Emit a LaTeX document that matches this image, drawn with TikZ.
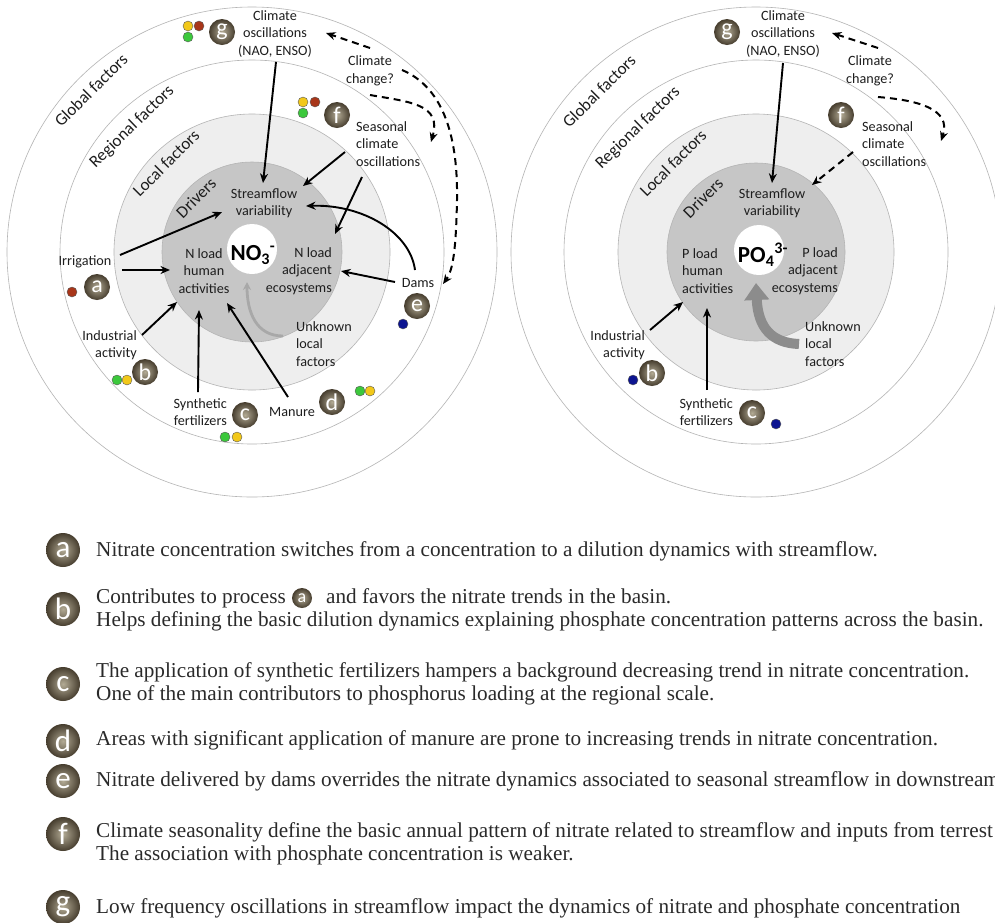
\documentclass[tikz,border=0pt]{standalone}
\usepackage{fontspec}
\setmainfont{Liberation Serif}
\newfontfamily\lab{Carlito}
\usetikzlibrary{arrows.meta}
\definecolor{ringline}{HTML}{B4B4B4}
\definecolor{localfill}{HTML}{EEEEEE}
\definecolor{drvfill}{HTML}{C6C6C6}
\definecolor{bin}{HTML}{B2AA94}
\definecolor{bout}{HTML}{463D2E}
\definecolor{dyel}{HTML}{F2C81A}
\definecolor{dgrn}{HTML}{3CC83C}
\definecolor{dbrn}{HTML}{A8361A}
\definecolor{dblu}{HTML}{0C1490}
\definecolor{txt}{HTML}{1E1E1E}
\definecolor{lgtxt}{HTML}{2A2A2A}
\definecolor{unkl}{HTML}{A8A8A8}
\definecolor{unkr}{HTML}{8C8C8C}
\begin{document}
\begin{tikzpicture}[x=1pt,y=-1pt,
  ring/.style={draw=ringline,line width=0.6pt},
  lbl/.style={font=\lab\fontsize{14.2}{17.5}\selectfont,text=txt,align=center,inner sep=0pt},
  rlbl/.style={lbl,font=\lab\fontsize{17}{17}\selectfont},
  chem/.style={font=\lab\bfseries\fontsize{23}{23}\selectfont,text=black,inner sep=0pt},
  badge/.style={circle,minimum size=26pt,inner sep=0pt,shading=radial,inner color=bin,outer color=bout,
    text=white,font=\lab\fontsize{24}{24}\selectfont},
  bigbadge/.style={badge,minimum size=34pt,font=\lab\fontsize{31}{31}\selectfont},
  smallbadge/.style={badge,minimum size=20pt,font=\lab\fontsize{18}{18}\selectfont},
  dot/.style={circle,minimum size=10pt,inner sep=0pt,draw=black!65,line width=0.4pt},
  arr/.style={-{Stealth[length=9.5pt,width=8pt]},line width=1.9pt,black},
  darr/.style={arr,line width=2pt,dash pattern=on 7pt off 5pt},
  leg/.style={anchor=base west,inner sep=0pt,text=lgtxt,font=\fontsize{21.2}{23}\selectfont}
]
\path[use as bounding box,fill=white] (0,0) rectangle (995,922);

% ---------------- left diagram ----------------
\draw[ring,fill=white] (252,252) circle[radius=245];
\draw[ring,fill=white] (252,252) circle[radius=192];
\draw[ring,fill=localfill] (252,252) circle[radius=138];
\draw[ring,fill=drvfill] (252,252) circle[radius=90];
\fill[white] (252,249) circle[radius=25];

\node[rlbl,rotate=45] (glob) at (91,90) {Global factors};
\node[rlbl,rotate=44] (reg) at (132,127) {Regional factors};
\node[rlbl,rotate=45] (loc) at (166,163) {Local factors};
\node[rlbl,rotate=45] (drv) at (196,198) {Drivers};

\node[lbl] (nao) at (275,34) {Climate\\oscillations\\(NAO, ENSO)};
\node[lbl] (cc) at (370,71) {Climate\\change?};
\node[lbl,align=left,anchor=west] (sea) at (356,144) {Seasonal\\climate\\oscillations};
\node[lbl] (sv) at (264,203) {Streamflow\\variability};
\node[lbl] (nh) at (204,271) {N load\\human\\activities};
\node[chem] (no3) at (253,255) {NO\textsubscript{3}\textsuperscript{-}};
\node[lbl,align=right,anchor=east] (na) at (332,271) {N load\\adjacent\\ecosystems};
\node[lbl] (irr) at (85,262) {Irrigation};
\node[lbl] (dams) at (418,283) {Dams};
\node[lbl,align=left,anchor=west] (unk) at (296,344) {Unknown\\local\\factors};
\node[lbl,align=right,anchor=east] (ind) at (137,345) {Industrial\\activity};
\node[lbl,align=right,anchor=east] (syn) at (227,412) {Synthetic\\fertilizers};
\node[lbl] (man) at (292,412) {Manure};

\node[badge] (g1) at (222,32) {g};
\node[badge] (f1) at (337,115) {f};
\node[badge] (a1) at (97,287) {a};
\node[badge] (e1) at (417,306) {e};
\node[badge] (b1) at (145,372) {b};
\node[badge] (c1) at (245,415) {c};
\node[badge] (d1) at (332,402) {d};

\node[dot,fill=dyel] (g1y) at (188,26) {};
\node[dot,fill=dbrn] (g1r) at (199,26) {};
\node[dot,fill=dgrn] (g1g) at (188,37) {};
\node[dot,fill=dyel] (f1y) at (303,102) {};
\node[dot,fill=dbrn] (f1r) at (315,102) {};
\node[dot,fill=dgrn] (f1g) at (303,113) {};
\node[dot,fill=dbrn] (a1r) at (72,292) {};
\node[dot,fill=dblu] (e1b) at (403,324) {};
\node[dot,fill=dgrn] (b1g) at (117,380) {};
\node[dot,fill=dyel] (b1y) at (127,380) {};
\node[dot,fill=dgrn] (c1g) at (225,437) {};
\node[dot,fill=dyel] (c1y) at (237,437) {};
\node[dot,fill=dgrn] (d1g) at (360,391) {};
\node[dot,fill=dyel] (d1y) at (370,391) {};

\coordinate (naoOut) at (276,62);
\coordinate (svTop) at (263,183);
\coordinate (seaOut1) at (345,152);
\coordinate (svNE) at (303,186);
\coordinate (seaOut2) at (362,177);
\coordinate (naTop) at (335,234);
\coordinate (ccOut1) at (370,48);
\coordinate (naoE) at (326,33);
\coordinate (ccOut2) at (370,95);
\coordinate (seaIn) at (431,142);
\coordinate (ccOut3) at (402,70);
\coordinate (damsIn) at (443,284);
\coordinate (irrOut1) at (120,255);
\coordinate (svW) at (222,212);
\coordinate (irrOut2) at (122,270);
\coordinate (nhW) at (170,270);
\coordinate (damsOut1) at (415,270);
\coordinate (svE) at (306,206);
\coordinate (damsOut2) at (395,282);
\coordinate (naE) at (341,271);
\coordinate (indOut) at (142,335);
\coordinate (nhSW) at (177,302);
\coordinate (synOut) at (198,392);
\coordinate (nhS) at (199,310);
\coordinate (manOut) at (288,397);
\coordinate (nhSE) at (227,303);
\coordinate (unkOut) at (283,336);
\coordinate (no3S) at (247,282);

\draw[arr] (naoOut) -- (svTop);
\draw[arr] (seaOut1) -- (svNE);
\draw[arr] (seaOut2) -- (naTop);
\draw[darr] (ccOut1) -- (naoE);
\draw[darr] (ccOut2) .. controls (410,102) and (442,104) .. (seaIn);
\draw[darr] (ccOut3) .. controls (445,88) and (458,140) .. (457,200) .. controls (456,250) and (453,270) .. (damsIn);
\draw[arr] (irrOut1) -- (svW);
\draw[arr] (irrOut2) -- (nhW);
\draw[arr] (damsOut1) .. controls (410,232) and (362,204) .. (svE);
\draw[arr] (damsOut2) -- (naE);
\draw[arr] (indOut) -- (nhSW);
\draw[arr] (synOut) -- (nhS);
\draw[arr] (manOut) -- (nhSE);
\draw[-{Stealth[length=8pt,width=8pt]},line width=2.8pt,unkl] (unkOut) .. controls (256,336) and (247,312) .. (no3S);

% ---------------- right diagram ----------------
\draw[ring,fill=white] (756,252) circle[radius=245];
\draw[ring,fill=white] (756,252) circle[radius=192];
\draw[ring,fill=localfill] (756,252) circle[radius=138];
\draw[ring,fill=drvfill] (756,252) circle[radius=89];
\fill[white] (759,250) circle[radius=25];

\node[rlbl,rotate=45] (glob2) at (599,91) {Global factors};
\node[rlbl,rotate=44] (reg2) at (638,128) {Regional factors};
\node[rlbl,rotate=45] (loc2) at (673,163) {Local factors};
\node[rlbl,rotate=45] (drv2) at (703,198) {Drivers};

\node[lbl] (nao2) at (783,34) {Climate\\oscillations\\(NAO, ENSO)};
\node[lbl] (cc2) at (870,71) {Climate\\change?};
\node[lbl,align=left,anchor=west] (sea2) at (862,144) {Seasonal\\climate\\oscillations};
\node[lbl] (sv2) at (772,203) {Streamflow\\variability};
\node[lbl,align=left,anchor=west] (ph) at (682,271) {P load\\human\\activities};
\node[chem] (po4) at (763,255) {PO\textsubscript{4}\textsuperscript{3-}};
\node[lbl,align=right,anchor=east] (pa) at (838,271) {P load\\adjacent\\ecosystems};
\node[lbl,align=left,anchor=west] (unk2) at (805,344) {Unknown\\local\\factors};
\node[lbl,align=right,anchor=east] (ind2) at (645,345) {Industrial\\activity};
\node[lbl,align=right,anchor=east] (syn2) at (733,412) {Synthetic\\fertilizers};

\node[badge] (g2) at (727,32) {g};
\node[badge] (f2) at (841,115) {f};
\node[badge] (b2) at (652,373) {b};
\node[badge] (c2) at (752,413) {c};
\node[dot,fill=dblu] (b2b) at (633,380) {};
\node[dot,fill=dblu] (c2b) at (776,424) {};

\coordinate (nao2Out) at (783,63);
\coordinate (sv2Top) at (772,183);
\coordinate (cc2Out1) at (878,48);
\coordinate (nao2E) at (832,33);
\coordinate (cc2Out2) at (878,97);
\coordinate (sea2In) at (941,141);
\coordinate (sea2Out) at (853,152);
\coordinate (sv2NE) at (812,185);
\coordinate (ind2Out) at (650,330);
\coordinate (phSW) at (683,302);
\coordinate (syn2Out) at (707,390);
\coordinate (phS) at (707,308);
\coordinate (unk2Out) at (799,344);
\coordinate (po4S) at (756,283);

\draw[arr] (nao2Out) -- (sv2Top);
\draw[darr] (cc2Out1) -- (nao2E);
\draw[darr] (cc2Out2) .. controls (915,100) and (952,108) .. (sea2In);
\draw[darr] (sea2Out) -- (sv2NE);
\draw[arr] (ind2Out) -- (phSW);
\draw[arr] (syn2Out) -- (phS);
\draw[-{Triangle[length=17pt,width=24pt]},line width=10pt,unkr] (unk2Out) .. controls (772,343) and (758,328) .. (po4S);

% ---------------- legend ----------------
\node[bigbadge] (la) at (63,550) {a};
\node[bigbadge] (lb) at (63,609) {b};
\node[bigbadge] (lc) at (63,684) {c};
\node[bigbadge] (ld) at (63,741) {d};
\node[bigbadge] (le) at (63,781) {e};
\node[bigbadge] (lf) at (63,834) {f};
\node[bigbadge] (lg) at (63,907) {g};

\node[leg] (ta) at (96,556) {Nitrate concentration switches from a concentration to a dilution dynamics with streamflow.};
\node[leg] (tb1) at (96,603) {Contributes to process};
\node[smallbadge] (ib) at (302,598) {a};
\node[leg] (tb1b) at (326,603) {and favors the nitrate trends in the basin.};
\node[leg] (tb2) at (96,626) {Helps defining the basic dilution dynamics explaining phosphate concentration patterns across the basin.};
\node[leg] (tc1) at (96,677) {The application of synthetic fertilizers hampers a background decreasing trend in nitrate concentration.};
\node[leg] (tc2) at (96,700) {One of the main contributors to phosphorus loading at the regional scale.};
\node[leg] (td) at (96,745) {Areas with significant application of manure are prone to increasing trends in nitrate concentration.};
\node[leg] (te) at (96,786) {Nitrate delivered by dams overrides the nitrate dynamics associated to seasonal streamflow in downstream};
\node[leg] (tf1) at (96,837) {Climate seasonality define the basic annual pattern of nitrate related to streamflow and inputs from terrest};
\node[leg] (tf2) at (96,860) {The association with phosphate concentration is weaker.};
\node[leg] (tg) at (96,913) {Low frequency oscillations in streamflow impact the dynamics of nitrate and phosphate concentration};
\end{tikzpicture}
\end{document}
